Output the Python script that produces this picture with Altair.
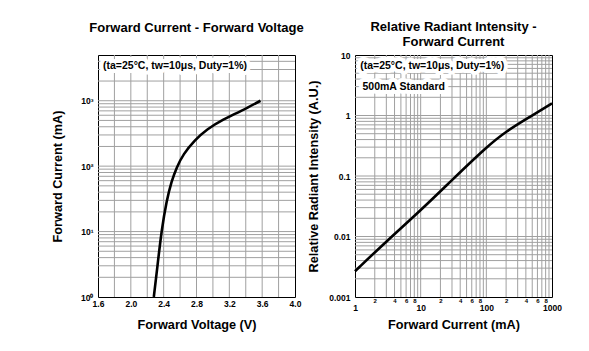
import altair as alt
import pandas as pd

F = "Liberation Sans"

# ---------------- data: left chart (Forward Current vs Forward Voltage) ----------
vf_volt = [2.28, 2.332, 2.374, 2.435, 2.496, 2.557, 2.637, 2.78, 2.923, 3.125, 3.34, 3.58]
vf_curr = [1, 3.6, 10.3, 29.5, 59, 95, 152, 250, 365, 520, 690, 1000]

left_x_ticks = [1.6, 2.0, 2.4, 2.8, 3.2, 3.6, 4.0]
left_y_ticks = [1, 10, 100, 1000]
left_y_labels = ["10⁰", "10¹", "10²", "10³"]
left_v_grid = [1.8, 2.0, 2.2, 2.4, 2.6, 2.8, 3.0, 3.2, 3.4, 3.6, 3.8]
left_h_grid = [2, 3, 4, 5, 6, 7, 8, 9,
               10, 20, 30, 40, 50, 60, 70, 80, 90,
               100, 200, 300, 400, 500, 600, 700, 800, 900,
               1000, 2000, 3000, 4000]

# ---------------- data: right chart (Relative Radiant Intensity vs Current) -------
ri_curr = [1, 3, 10, 30, 100, 200, 500, 1000]
ri_rel = [0.00267, 0.0083, 0.027, 0.086, 0.30, 0.55, 1.0, 1.59]

right_x_ticks = [1, 2, 4, 6, 8, 10, 20, 40, 60, 80, 100, 200, 400, 600, 800, 1000]
right_x_labels = ["1", "2", "4", "6", "8", "10", "2", "4", "6", "8", "100", "2", "4", "6", "8", "1000"]
right_x_minor = [2, 4, 6, 8, 20, 40, 60, 80, 200, 400, 600, 800]
right_y_ticks = [0.001, 0.01, 0.1, 1, 10]
right_y_labels = ["0.001", "0.01", "0.1", "1", "10"]
right_v_grid = [2, 3, 4, 5, 6, 7, 8, 9,
                10, 20, 30, 40, 50, 60, 70, 80, 90,
                100, 200, 300, 400, 500, 600, 700, 800, 900]
right_h_grid = [0.002, 0.003, 0.004, 0.005, 0.006, 0.007, 0.008, 0.009,
                0.01, 0.02, 0.03, 0.04, 0.05, 0.06, 0.07, 0.08, 0.09,
                0.1, 0.2, 0.3, 0.4, 0.5, 0.6, 0.7, 0.8, 0.9,
                1, 2, 3, 4, 5, 6, 7, 8, 9]

note_text = "(ta=25°C, tw=10μs, Duty=1%)"
left_notes = pd.DataFrame({"x": [1.661], "y": [3400], "t": [note_text]})
right_notes = pd.DataFrame({"x": [1.2, 1.3], "y": [6.6, 3.0], "t": [note_text, "500mA Standard"]})

W, H = 197, 242
GRID = "#a0a0a0"


def label_expr(values, labels):
    parts = [f"datum.value == {v} ? '{l}'" for v, l in zip(values, labels)]
    return " : ".join(parts) + " : ''"


common_axis = dict(domain=False, ticks=False, grid=False,
                   labelFont=F, labelFontWeight="bold", labelColor="black",
                   titleFont=F, titleFontWeight="bold", titleColor="black",
                   titleFontSize=12.7, labelFlush=False, labelOverlap=False)

# ---------------- left panel ----------------
lx_axis = alt.Axis(values=left_x_ticks, format=".1f", title="Forward Voltage (V)",
                   labelFontSize=8.5, labelPadding=2.5,
                   titleX=W / 2, titleY=31.5, titleBaseline="alphabetic", **common_axis)
ly_axis = alt.Axis(values=left_y_ticks, labelExpr=label_expr(left_y_ticks, left_y_labels),
                   title="Forward Current (mA)", labelFontSize=8.5, labelPadding=5,
                   titleX=-37, titleY=H / 2, titleAngle=-90, titleAlign="center",
                   titleBaseline="alphabetic", **common_axis)
lx_scale = alt.Scale(domain=[1.6, 4.0], nice=False, zero=False)
ly_scale = alt.Scale(type="log", domain=[1, 5000], nice=False)

lX = alt.X("x:Q", scale=lx_scale, axis=lx_axis)
lY = alt.Y("y:Q", scale=ly_scale, axis=ly_axis)

l_vgrid = alt.Chart(pd.DataFrame({"x": left_v_grid})).mark_rule(color=GRID, strokeWidth=1).encode(x=lX)
l_hgrid = alt.Chart(pd.DataFrame({"y": left_h_grid})).mark_rule(color=GRID, strokeWidth=1).encode(y=lY)
l_curve = alt.Chart(pd.DataFrame({"x": vf_volt, "y": vf_curr})).mark_line(
    color="black", strokeWidth=2.6, interpolate="basis").encode(x=lX, y=lY)
l_halo = alt.Chart(left_notes).mark_text(align="left", baseline="middle", font=F, fontSize=10.5,
                                         fontWeight="bold", fill="white", stroke="white",
                                         strokeWidth=8, strokeJoin="round").encode(x=lX, y=lY, text="t:N")
l_text = alt.Chart(left_notes).mark_text(align="left", baseline="middle", font=F, fontSize=10.5,
                                         fontWeight="bold", color="black").encode(x=lX, y=lY, text="t:N")

left = alt.layer(l_vgrid, l_hgrid, l_curve, l_halo, l_text).properties(
    width=W, height=H,
    title=alt.TitleParams(text="Forward Current - Forward Voltage", font=F, fontSize=13,
                          fontWeight="bold", color="black", anchor="middle", frame="group",
                          offset=20))

# ---------------- right panel ----------------
minor_test = f"indexof({right_x_minor}, datum.value) >= 0"
rx_axis = alt.Axis(values=right_x_ticks, labelExpr=label_expr(right_x_ticks, right_x_labels),
                   title="Forward Current (mA)",
                   labelFontSize={"condition": {"test": minor_test, "value": 6}, "value": 8.5},
                   labelBaseline={"condition": {"test": minor_test, "value": "bottom"}, "value": "top"},
                   labelPadding=6.5,
                   titleX=W / 2, titleY=31.5, titleBaseline="alphabetic", **common_axis)
ry_axis = alt.Axis(values=right_y_ticks, labelExpr=label_expr(right_y_ticks, right_y_labels),
                   title="Relative Radiant Intensity (A.U.)", labelFontSize=8.5, labelPadding=5,
                   titleX=-38, titleY=H / 2, titleAngle=-90, titleAlign="center",
                   titleBaseline="alphabetic", **common_axis)
rx_scale = alt.Scale(type="log", domain=[1, 1000], nice=False)
ry_scale = alt.Scale(type="log", domain=[0.001, 10], nice=False)

rX = alt.X("x:Q", scale=rx_scale, axis=rx_axis)
rY = alt.Y("y:Q", scale=ry_scale, axis=ry_axis)

r_vgrid = alt.Chart(pd.DataFrame({"x": right_v_grid})).mark_rule(color=GRID, strokeWidth=1).encode(x=rX)
r_hgrid = alt.Chart(pd.DataFrame({"y": right_h_grid})).mark_rule(color=GRID, strokeWidth=1).encode(y=rY)
r_curve = alt.Chart(pd.DataFrame({"x": ri_curr, "y": ri_rel})).mark_line(
    color="black", strokeWidth=2.6, interpolate="basis").encode(x=rX, y=rY)
r_halo = alt.Chart(right_notes).mark_text(align="left", baseline="middle", font=F, fontSize=10.5,
                                          fontWeight="bold", fill="white", stroke="white",
                                          strokeWidth=8, strokeJoin="round").encode(x=rX, y=rY, text="t:N")
r_text = alt.Chart(right_notes).mark_text(align="left", baseline="middle", font=F, fontSize=10.5,
                                          fontWeight="bold", color="black").encode(x=rX, y=rY, text="t:N")

right = alt.layer(r_vgrid, r_hgrid, r_curve, r_halo, r_text).properties(
    width=W, height=H,
    title=alt.TitleParams(text=["Relative Radiant Intensity -", "Forward Current"], font=F,
                          fontSize=13, fontWeight="bold", color="black", anchor="middle",
                          frame="group", offset=2, lineHeight=15))

chart = alt.hconcat(left, right, spacing=60, bounds="flush").properties(
    padding={"left": 50, "top": 20, "right": 5, "bottom": 5}
).configure_view(stroke="black", strokeWidth=1)

chart.save("out.html", embed_options={"renderer": "svg", "actions": False})
